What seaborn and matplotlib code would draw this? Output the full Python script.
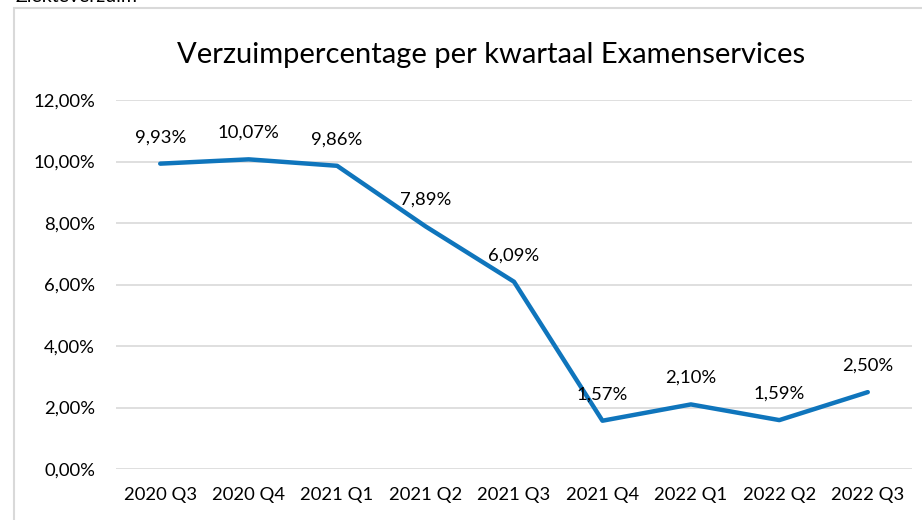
import matplotlib
matplotlib.use("Agg")
import matplotlib.pyplot as plt
import matplotlib.patches as mpatches
from matplotlib.ticker import FuncFormatter
import seaborn as sns
import pandas as pd

categories = ["2020 Q3", "2020 Q4", "2021 Q1", "2021 Q2", "2021 Q3",
              "2021 Q4", "2022 Q1", "2022 Q2", "2022 Q3"]
values = [9.93, 10.07, 9.86, 7.89, 6.09, 1.57, 2.10, 1.59, 2.50]
title = "Verzuimpercentage per kwartaal Examenservices"
y_ticks = [0, 2, 4, 6, 8, 10, 12]

sns.set_theme(style="white")
plt.rcParams["font.family"] = ["Lato", "DejaVu Sans"]

df = pd.DataFrame({"kwartaal": categories, "pct": values})

fig = plt.figure(figsize=(9.22, 5.2), dpi=100)
ax = fig.add_axes([116 / 922, 1 - 469 / 520, (912 - 116) / 922, (469 - 100) / 520])

# outer frame (partially off-canvas)
fig.patches.append(mpatches.Rectangle((14 / 922, -0.2), 1.2, 0.2 + (1 - 8 / 520),
                                      transform=fig.transFigure, fill=False,
                                      edgecolor="#D9D9D9", linewidth=1.5, zorder=0))
fig.text(15 / 922, 1 + 3 / 520, "Ziekteverzuim", fontsize=14, color="#000000",
         ha="left", va="center")

sns.lineplot(data=df, x="kwartaal", y="pct", ax=ax, sort=False,
             color="#0F75BC", linewidth=3.2, solid_capstyle="round")

ax.set_ylim(0, 12)
ax.set_xlim(-0.5, len(categories) - 0.5)
ax.set_yticks(y_ticks)
ax.yaxis.set_major_formatter(FuncFormatter(lambda v, p: f"{v:.2f}%".replace(".", ",")))
ax.grid(axis="y", color="#D9D9D9", linewidth=1.2)
ax.set_axisbelow(True)
for s in ax.spines.values():
    s.set_visible(False)
ax.tick_params(axis="y", length=0, pad=15, labelsize=13.3, labelcolor="#000000")
ax.tick_params(axis="x", length=0, pad=13, labelsize=13.3, labelcolor="#000000")
ax.set_xlabel("")
ax.set_ylabel("")

for i, v in enumerate(values):
    ax.annotate(f"{v:.2f}%".replace(".", ","), (i, v), xytext=(0, 19),
                textcoords="offset points", ha="center", va="center",
                fontsize=13.3, color="#000000")

fig.text(491 / 922, 1 - 55 / 520, title, fontsize=21, ha="center", va="center",
         color="#000000")

fig.savefig("out.png", dpi=100)
